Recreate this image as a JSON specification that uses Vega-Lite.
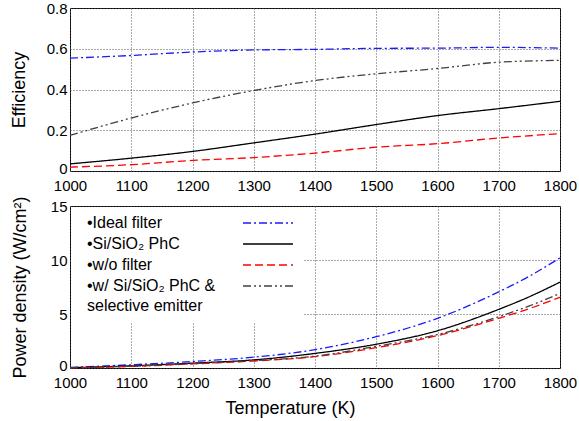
{
  "$schema": "https://vega.github.io/schema/vega-lite/v6.json",
  "background": "white",
  "padding": {"left": 9, "top": 0, "right": 5, "bottom": 5},
  "spacing": 35,
  "bounds": "flush",
  "datasets": {
    "eff": [
      {"T": 1000, "s": "Ideal filter", "v": 0.554}, {"T": 1100, "s": "Ideal filter", "v": 0.567}, {"T": 1200, "s": "Ideal filter", "v": 0.584}, {"T": 1300, "s": "Ideal filter", "v": 0.594}, {"T": 1400, "s": "Ideal filter", "v": 0.597}, {"T": 1500, "s": "Ideal filter", "v": 0.602}, {"T": 1600, "s": "Ideal filter", "v": 0.603}, {"T": 1700, "s": "Ideal filter", "v": 0.607}, {"T": 1800, "s": "Ideal filter", "v": 0.603},
      {"T": 1000, "s": "Si/SiO₂ PhC", "v": 0.035}, {"T": 1100, "s": "Si/SiO₂ PhC", "v": 0.063}, {"T": 1200, "s": "Si/SiO₂ PhC", "v": 0.096}, {"T": 1300, "s": "Si/SiO₂ PhC", "v": 0.138}, {"T": 1400, "s": "Si/SiO₂ PhC", "v": 0.181}, {"T": 1500, "s": "Si/SiO₂ PhC", "v": 0.228}, {"T": 1600, "s": "Si/SiO₂ PhC", "v": 0.272}, {"T": 1700, "s": "Si/SiO₂ PhC", "v": 0.306}, {"T": 1800, "s": "Si/SiO₂ PhC", "v": 0.342},
      {"T": 1000, "s": "w/o filter", "v": 0.019}, {"T": 1100, "s": "w/o filter", "v": 0.031}, {"T": 1200, "s": "w/o filter", "v": 0.052}, {"T": 1300, "s": "w/o filter", "v": 0.066}, {"T": 1400, "s": "w/o filter", "v": 0.088}, {"T": 1500, "s": "w/o filter", "v": 0.117}, {"T": 1600, "s": "w/o filter", "v": 0.134}, {"T": 1700, "s": "w/o filter", "v": 0.162}, {"T": 1800, "s": "w/o filter", "v": 0.183},
      {"T": 1000, "s": "w/ Si/SiO₂ PhC & selective emitter", "v": 0.175}, {"T": 1100, "s": "w/ Si/SiO₂ PhC & selective emitter", "v": 0.26}, {"T": 1200, "s": "w/ Si/SiO₂ PhC & selective emitter", "v": 0.334}, {"T": 1300, "s": "w/ Si/SiO₂ PhC & selective emitter", "v": 0.395}, {"T": 1400, "s": "w/ Si/SiO₂ PhC & selective emitter", "v": 0.444}, {"T": 1500, "s": "w/ Si/SiO₂ PhC & selective emitter", "v": 0.477}, {"T": 1600, "s": "w/ Si/SiO₂ PhC & selective emitter", "v": 0.503}, {"T": 1700, "s": "w/ Si/SiO₂ PhC & selective emitter", "v": 0.534}, {"T": 1800, "s": "w/ Si/SiO₂ PhC & selective emitter", "v": 0.543}
    ],
    "pd": [
      {"T": 1000, "s": "Ideal filter", "v": 0.05}, {"T": 1100, "s": "Ideal filter", "v": 0.3}, {"T": 1200, "s": "Ideal filter", "v": 0.6}, {"T": 1300, "s": "Ideal filter", "v": 1.0}, {"T": 1400, "s": "Ideal filter", "v": 1.7}, {"T": 1500, "s": "Ideal filter", "v": 2.9}, {"T": 1600, "s": "Ideal filter", "v": 4.6}, {"T": 1700, "s": "Ideal filter", "v": 7.05}, {"T": 1750, "s": "Ideal filter", "v": 8.5}, {"T": 1800, "s": "Ideal filter", "v": 10.2},
      {"T": 1000, "s": "Si/SiO₂ PhC", "v": 0.03}, {"T": 1100, "s": "Si/SiO₂ PhC", "v": 0.2}, {"T": 1200, "s": "Si/SiO₂ PhC", "v": 0.45}, {"T": 1300, "s": "Si/SiO₂ PhC", "v": 0.75}, {"T": 1400, "s": "Si/SiO₂ PhC", "v": 1.35}, {"T": 1500, "s": "Si/SiO₂ PhC", "v": 2.2}, {"T": 1600, "s": "Si/SiO₂ PhC", "v": 3.45}, {"T": 1700, "s": "Si/SiO₂ PhC", "v": 5.43}, {"T": 1750, "s": "Si/SiO₂ PhC", "v": 6.6}, {"T": 1800, "s": "Si/SiO₂ PhC", "v": 7.95},
      {"T": 1000, "s": "w/o filter", "v": 0.02}, {"T": 1100, "s": "w/o filter", "v": 0.15}, {"T": 1200, "s": "w/o filter", "v": 0.38}, {"T": 1300, "s": "w/o filter", "v": 0.65}, {"T": 1400, "s": "w/o filter", "v": 1.05}, {"T": 1500, "s": "w/o filter", "v": 1.88}, {"T": 1600, "s": "w/o filter", "v": 3.0}, {"T": 1700, "s": "w/o filter", "v": 4.6}, {"T": 1750, "s": "w/o filter", "v": 5.5}, {"T": 1800, "s": "w/o filter", "v": 6.55},
      {"T": 1000, "s": "w/ Si/SiO₂ PhC & selective emitter", "v": 0.02}, {"T": 1100, "s": "w/ Si/SiO₂ PhC & selective emitter", "v": 0.16}, {"T": 1200, "s": "w/ Si/SiO₂ PhC & selective emitter", "v": 0.4}, {"T": 1300, "s": "w/ Si/SiO₂ PhC & selective emitter", "v": 0.68}, {"T": 1400, "s": "w/ Si/SiO₂ PhC & selective emitter", "v": 1.1}, {"T": 1500, "s": "w/ Si/SiO₂ PhC & selective emitter", "v": 2.0}, {"T": 1600, "s": "w/ Si/SiO₂ PhC & selective emitter", "v": 3.1}, {"T": 1700, "s": "w/ Si/SiO₂ PhC & selective emitter", "v": 4.75}, {"T": 1750, "s": "w/ Si/SiO₂ PhC & selective emitter", "v": 5.75}, {"T": 1800, "s": "w/ Si/SiO₂ PhC & selective emitter", "v": 6.9}
    ]
  },
  "config": {
    "view": {"stroke": "black", "strokeWidth": 1},
    "font": "Liberation Sans",
    "style": {"guide-label": {"lineHeight": 20}},
    "axis": {
      "labelFont": "Liberation Sans", "labelFontSize": 15, "labelColor": "black",
      "titleFont": "Liberation Sans", "titleFontSize": 18, "titleFontWeight": "normal", "titleColor": "black",
      "grid": true, "gridColor": "#555555", "gridDash": [1, 2], "gridWidth": 1, "gridOpacity": 1,
      "domain": false, "ticks": false, "tickSize": 0
    },
    "axisX": {"labelPadding": 7, "labelFlush": false},
    "axisY": {"labelPadding": 3, "labelFlush": false}
  },
  "resolve": {"scale": {"color": "independent", "strokeDash": "independent"}},
  "vconcat": [
    {
      "width": 490, "height": 163,
      "data": {"name": "eff"},
      "mark": {"type": "line", "strokeWidth": 1.3, "interpolate": "monotone"},
      "encoding": {
        "x": {"field": "T", "type": "quantitative", "scale": {"domain": [1000, 1800], "nice": false},
              "axis": {"values": [1000, 1100, 1200, 1300, 1400, 1500, 1600, 1700, 1800], "format": "d", "title": null}},
        "y": {"field": "v", "type": "quantitative", "scale": {"domain": [0, 0.8], "nice": false},
              "axis": {"values": [0, 0.2, 0.4, 0.6, 0.8], "format": ".1~f", "title": "Efficiency", "titleX": -51, "titleBaseline": "middle",
                       "labelOffset": {"condition": {"test": "datum.value == 0", "value": -3}, "value": 0}}},
        "color": {"field": "s", "type": "nominal", "legend": null,
                  "scale": {"domain": ["Ideal filter", "Si/SiO₂ PhC", "w/o filter", "w/ Si/SiO₂ PhC & selective emitter"], "range": ["#1a1aff", "#000000", "#ff0000", "#404040"]}},
        "strokeDash": {"field": "s", "type": "nominal", "legend": null,
                  "scale": {"domain": ["Ideal filter", "Si/SiO₂ PhC", "w/o filter", "w/ Si/SiO₂ PhC & selective emitter"], "range": [[8, 3, 2, 3], [1, 0], [8, 4], [8, 3, 2, 3, 2, 3]]}}
      }
    },
    {
      "width": 490, "height": 162,
      "data": {"name": "pd"},
      "mark": {"type": "line", "strokeWidth": 1.3, "interpolate": "monotone"},
      "encoding": {
        "x": {"field": "T", "type": "quantitative", "scale": {"domain": [1000, 1800], "nice": false},
              "axis": {"values": [1000, 1100, 1200, 1300, 1400, 1500, 1600, 1700, 1800], "format": "d", "title": "Temperature (K)", "titleX": 220, "titleY": 40, "titleBaseline": "middle"}},
        "y": {"field": "v", "type": "quantitative", "scale": {"domain": [0, 15], "nice": false},
              "axis": {"values": [0, 5, 10, 15], "format": "d", "title": "Power density (W/cm²)", "titleX": -50, "titleBaseline": "middle",
                       "labelOffset": {"condition": {"test": "datum.value == 0", "value": -3}, "value": 0}}},
        "color": {"field": "s", "type": "nominal",
                  "scale": {"domain": ["Ideal filter", "Si/SiO₂ PhC", "w/o filter", "w/ Si/SiO₂ PhC & selective emitter"], "range": ["#1a1aff", "#000000", "#ff0000", "#404040"]},
                  "legend": {"title": null, "orient": "none", "legendX": 1, "legendY": 1, "padding": 8, "fillColor": "white",
                             "labelFont": "Liberation Sans", "labelFontSize": 16, "labelColor": "black", "labelLimit": 300,
                             "symbolType": "M-5,0H5", "symbolSize": 100, "symbolStrokeWidth": 1.5, "symbolOffset": 181, "labelOffset": -189, "rowPadding": 5,
                             "labelExpr": "datum.label == 'w/ Si/SiO₂ PhC & selective emitter' ? ['•w/ Si/SiO₂ PhC &', '\u00a0selective emitter'] : '•' + datum.label"}},
        "strokeDash": {"field": "s", "type": "nominal",
                  "scale": {"domain": ["Ideal filter", "Si/SiO₂ PhC", "w/o filter", "w/ Si/SiO₂ PhC & selective emitter"], "range": [[8, 3, 2, 3], [1, 0], [8, 4], [8, 3, 2, 3, 2, 3]]}}
      }
    }
  ]
}
